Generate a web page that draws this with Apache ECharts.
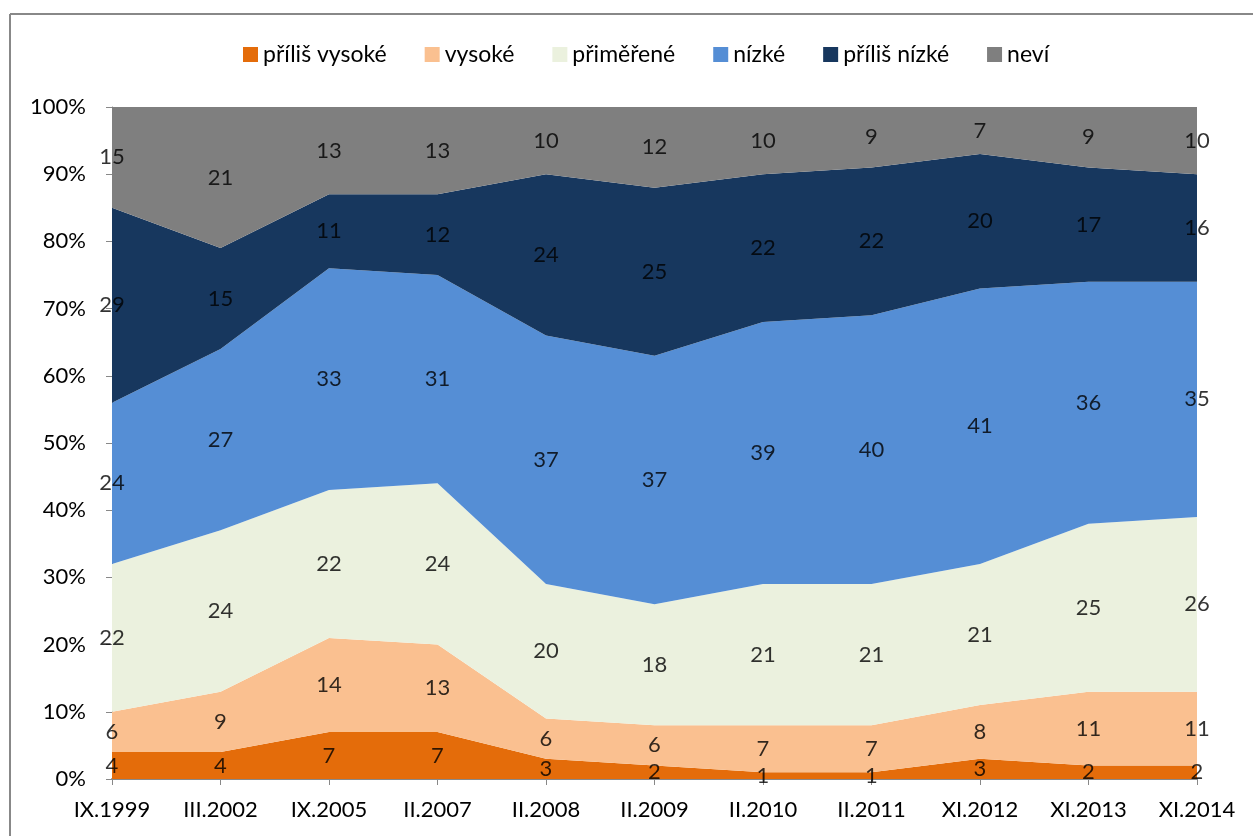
<!DOCTYPE html>
<html>
<head>
<meta charset="utf-8">
<script src="https://cdn.jsdelivr.net/npm/echarts@6/dist/echarts.min.js"></script>
<style>html,body{margin:0;padding:0;background:#fff}#c{width:1253px;height:836px}</style>
</head>
<body>
<div id="c"></div>
<script>
var categories = ['IX.1999','III.2002','IX.2005','II.2007','II.2008','II.2009','II.2010','II.2011','XI.2012','XI.2013','XI.2014'];
var seriesNames = ['příliš vysoké','vysoké','přiměřené','nízké','příliš nízké','neví'];
var priilisVysoke = [4,4,7,7,3,2,1,1,3,2,2];
var vysoke = [6,9,14,13,6,6,7,7,8,11,11];
var primerene = [22,24,22,24,20,18,21,21,21,25,26];
var nizke = [24,27,33,31,37,37,39,40,41,36,35];
var priilisNizke = [29,15,11,12,24,25,22,22,20,17,16];
var nevi = [15,21,13,13,10,12,10,9,7,9,10];
var colors = ['#E46C0A','#FAC090','#EBF1DE','#558ED5','#17375E','#7F7F7F'];

var allData = [priilisVysoke, vysoke, primerene, nizke, priilisNizke, nevi];
var FONT = 'Lato';

var series = [];
allData.forEach(function(d, i){
  series.push({
    name: seriesNames[i], type: 'line', stack: 'total', data: d,
    symbol: 'none', lineStyle: {width: 0}, areaStyle: {color: colors[i], opacity: 1},
    itemStyle: {color: colors[i]}, emphasis: {disabled: true}, silent: true
  });
});
// label positions: middle of each band
var cum = categories.map(function(){return 0;});
allData.forEach(function(d, i){
  var pts = d.map(function(v, j){
    var mid = cum[j] + v/2;
    return {value: [j, mid], v: v};
  });
  d.forEach(function(v, j){ cum[j] += v; });
  series.push({
    type: 'scatter', data: pts, symbolSize: 0, silent: true, z: 10,
    label: {show: true, position: 'inside', color: '#000', fontFamily: FONT, fontSize: 22,
      formatter: function(p){ return p.data.v; }}
  });
});

var chart = echarts.init(document.getElementById('c'));
chart.setOption({
  animation: false,
  color: colors,
  legend: {
    data: seriesNames, top: 38, left: 238, itemWidth: 15, itemHeight: 15, itemGap: 38,
    icon: 'rect', textStyle: {fontFamily: FONT, fontSize: 23, color: '#000', padding: [0,0,0,0]}
  },
  grid: {left: 112, right: 56, top: 107, bottom: 57},
  xAxis: {
    type: 'category', data: categories, boundaryGap: false,
    axisLine: {lineStyle: {color: '#888', width: 2}},
    axisTick: {show: true, length: 6, lineStyle: {color: '#888'}},
    axisLabel: {fontFamily: FONT, fontSize: 22, color: '#000', margin: 20}
  },
  yAxis: {
    type: 'value', min: 0, max: 100, interval: 10,
    axisLine: {show: true, lineStyle: {color: '#888'}},
    axisTick: {show: true, length: 6, lineStyle: {color: '#888'}},
    splitLine: {show: false},
    axisLabel: {fontFamily: FONT, fontSize: 22, color: '#000', margin: 26, formatter: '{value}%'}
  },
  series: series,
  graphic: [
    {type: 'line', shape: {x1: 10, y1: 14, x2: 1253, y2: 14}, style: {stroke: '#888', lineWidth: 2}},
    {type: 'line', shape: {x1: 10, y1: 14, x2: 10, y2: 836}, style: {stroke: '#888', lineWidth: 2}}
  ]
});
</script>
</body>
</html>
